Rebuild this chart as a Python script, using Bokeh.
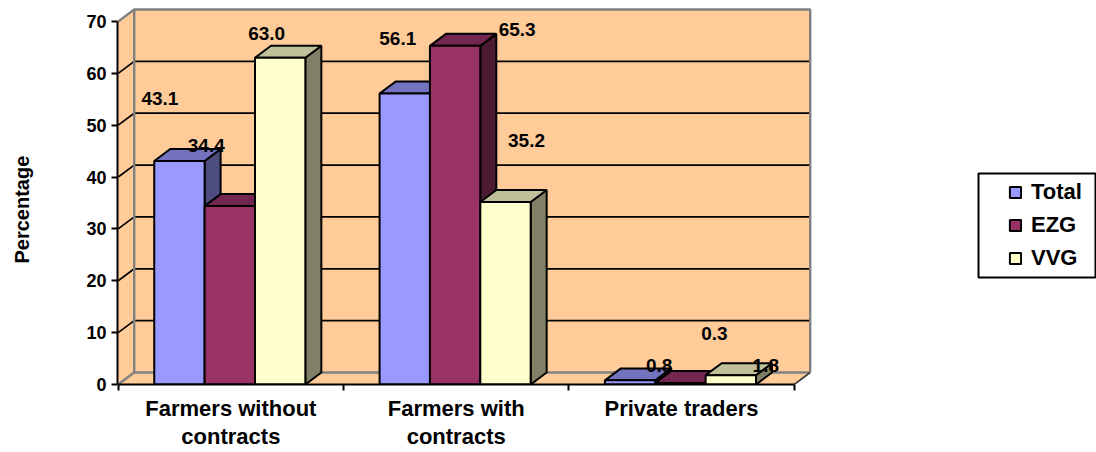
from bokeh.plotting import figure
from bokeh.models import (Range1d, LinearAxis, FixedTicker, Legend, LegendItem, Title,
                          BoxAnnotation, ColumnDataSource)
from bokeh.core.properties import value
from bokeh.embed import file_html
from bokeh.resources import INLINE

categories = ["Farmers without\ncontracts", "Farmers with\ncontracts", "Private traders"]
series_names = ["Total", "EZG", "VVG"]
total_values = [43.1, 56.1, 0.8]
ezg_values = [34.4, 65.3, 0.3]
vvg_values = [63.0, 35.2, 1.8]
value_ticks = [0, 10, 20, 30, 40, 50, 60, 70]

FONT = "Liberation Sans"
front_colors = ["#9999FF", "#993366", "#FFFFCC"]
top_colors = ["#7373BF", "#732650", "#BFBF99"]
side_colors = ["#4D4D80", "#4D1A33", "#808066"]
WALL = "#FFCC99"
EDGE = "#808080"

# Pixel scale of the front plane, and the receding offset of the 3D box
px_x = 225.33
px_y = 5.2
depth_x = 16 / px_x
depth_y = 12 / px_y
gap = 0.16
bar_w = 0.2235

# Hand placed label offsets (pixels) from the centre of each bar's top edge
label_dx = [[-19.5, -7, 29], [-23.5, 62, 34], [-13.5, 21, 35]]
label_dy = [[-62, -55, -15], [-61, -16, -49], [-24.4, -61, -10]]

n = len(categories)
# The plotting area reaches the right edge of the page so the legend can sit inside it
p = figure(width=1096, height=452, output_backend="svg", toolbar_location=None,
           x_range=Range1d(-0.7 / px_x, (1096 - 117 - 0.7) / px_x),
           y_range=Range1d(0, (385 - 5) / px_y),
           x_axis_type=None, y_axis_type=None,
           min_border_left=117, min_border_right=0, min_border_top=5, min_border_bottom=67,
           outline_line_color=None, background_fill_color=None, border_fill_color="white")
p.grid.visible = False

top_y = value_ticks[-1]
right = n

# Back wall, left wall and floor of the box
p.patches(
    xs=[[depth_x, right + depth_x, right + depth_x, depth_x],
        [0, depth_x, depth_x, 0],
        [0, right, right + depth_x, depth_x]],
    ys=[[depth_y, depth_y, top_y + depth_y, top_y + depth_y],
        [0, depth_y, top_y + depth_y, top_y],
        [0, 0, depth_y, depth_y]],
    fill_color=WALL, line_color=None)

# Gridlines run along the left wall and then across the back wall
inner = value_ticks[1:-1]
p.multi_line(xs=[[0, depth_x, right + depth_x] for _ in inner],
             ys=[[v, v + depth_y, v + depth_y] for v in inner],
             line_color="black", line_width=1.7)

# Grey frame of the walls
p.multi_line(
    xs=[[0, depth_x, right + depth_x, right + depth_x],
        [depth_x, depth_x],
        [0, depth_x, right + depth_x]],
    ys=[[top_y, top_y + depth_y, top_y + depth_y, depth_y],
        [depth_y, top_y + depth_y],
        [0, depth_y, depth_y]],
    line_color=EDGE, line_width=2.4)
p.line([right, right + depth_x], [0, depth_y], line_color="#404040", line_width=1.7)

# Bars: side, top and front faces, drawn left to right so nearer faces overlap
series = [total_values, ezg_values, vvg_values]
fronts = []
for s, vals in enumerate(series):
    lefts = [i + gap + s * bar_w for i in range(n)]
    rights = [l + bar_w for l in lefts]
    p.patches(
        xs=[[r, r + depth_x, r + depth_x, r] for r in rights],
        ys=[[0, depth_y, v + depth_y, v] for v in vals],
        fill_color=side_colors[s], line_color="black", line_width=2)
    p.patches(
        xs=[[l, r, r + depth_x, l + depth_x] for l, r in zip(lefts, rights)],
        ys=[[v, v, v + depth_y, v + depth_y] for v in vals],
        fill_color=top_colors[s], line_color="black", line_width=2)
    fronts.append(p.quad(left=lefts, right=rights, bottom=0, top=vals,
                         fill_color=front_colors[s], line_color="black", line_width=2))

# Value labels
for s, vals in enumerate(series):
    src = ColumnDataSource(dict(
        x=[i + gap + (s + 0.5) * bar_w for i in range(n)],
        y=vals,
        t=[f"{v:.1f}" for v in vals],
        dx=label_dx[s],
        dy=label_dy[s]))
    p.text(x="x", y="y", text="t", x_offset="dx", y_offset="dy", source=src,
           text_font=value(FONT), text_font_style="bold", text_font_size="19px",
           text_align="center", text_baseline="middle", text_color="black")

# Value axis
yaxis = LinearAxis(ticker=FixedTicker(ticks=value_ticks), bounds=(0, top_y),
                   axis_line_color="black", axis_line_width=2,
                   major_tick_line_color="black", major_tick_line_width=2,
                   major_tick_out=6, major_tick_in=0, minor_tick_line_color=None,
                   major_label_standoff=5,
                   major_label_text_font=FONT, major_label_text_font_style="bold",
                   major_label_text_font_size="18px", major_label_text_color="black")
p.add_layout(yaxis, "left")

# An unlined axis keeps the title away from the tick labels
spacer_axis = LinearAxis(ticker=FixedTicker(ticks=[0]), major_label_overrides={0: ""},
                         axis_line_color=None, major_tick_line_color=None,
                         minor_tick_line_color=None,
                         major_tick_out=51, major_tick_in=0, major_label_standoff=0)
p.add_layout(spacer_axis, "left")

# Category axis: ticks on the boundaries, labels in the middle of each group
boundaries = list(range(n + 1))
xaxis = LinearAxis(ticker=FixedTicker(ticks=boundaries), bounds=(0, n),
                   major_label_overrides={b: "" for b in boundaries},
                   axis_line_color="black", axis_line_width=2,
                   major_tick_line_color="black", major_tick_line_width=2,
                   major_tick_out=6, major_tick_in=0, minor_tick_line_color=None,
                   major_label_standoff=0)
p.add_layout(xaxis, "below")
label_axis = LinearAxis(ticker=FixedTicker(ticks=[i + 0.5 for i in range(n)]),
                        major_label_overrides={i + 0.5: c for i, c in enumerate(categories)},
                        axis_line_color=None, major_tick_line_color=None,
                        minor_tick_line_color=None, major_tick_out=0, major_tick_in=0,
                        major_label_standoff=5,
                        major_label_text_font=FONT, major_label_text_font_style="bold",
                        major_label_text_font_size="22px", major_label_text_color="black",
                        major_label_text_line_height=1.15)
p.add_layout(label_axis, "below")

# Value axis title
p.add_layout(Title(text="Percentage", align="left", offset=121, standoff=0,
                   text_font=FONT, text_font_style="bold", text_font_size="20px",
                   text_color="black"), "left")

# Legend box and its entries
p.add_layout(BoxAnnotation(left=978, right=1095, top=173, bottom=277, level="overlay",
                           left_units="canvas", right_units="canvas",
                           top_units="canvas", bottom_units="canvas",
                           fill_color="white", fill_alpha=1,
                           line_color="black", line_alpha=1, line_width=2))
legend = Legend(items=[LegendItem(label=value(name), renderers=[r])
                       for name, r in zip(series_names, fronts)],
                location=(891, 113), orientation="vertical", level="overlay",
                glyph_width=14, glyph_height=14, label_standoff=9, spacing=7,
                padding=0, margin=0,
                label_text_font=FONT, label_text_font_style="bold",
                label_text_font_size="22px", label_text_color="black",
                border_line_color=None, background_fill_alpha=0)
p.add_layout(legend, "center")

open("out.html", "w").write(file_html(p, INLINE))
